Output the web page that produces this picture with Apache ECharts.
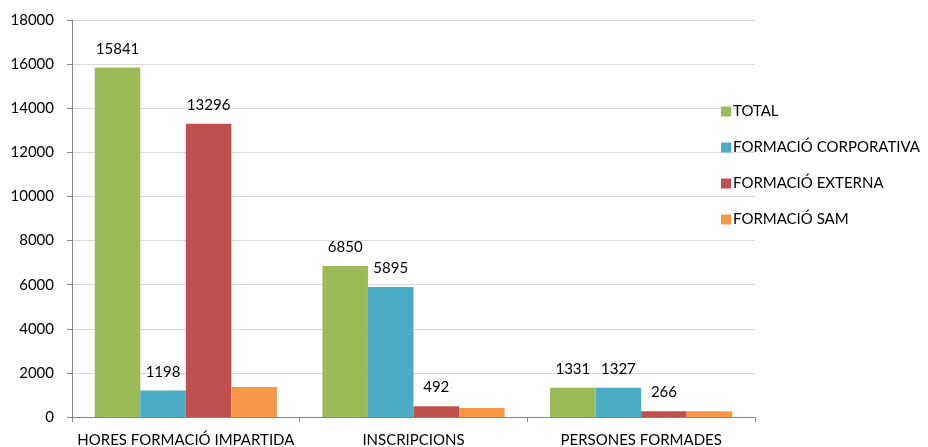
<!DOCTYPE html>
<html>
<head>
<meta charset="utf-8">
<script src="https://cdn.jsdelivr.net/npm/echarts@6/dist/echarts.min.js"></script>
<style>html,body{margin:0;padding:0;background:#fff}#c{width:928px;height:447px}</style>
</head>
<body>
<div id="c"></div>
<script>
const categories = ['HORES FORMACIÓ IMPARTIDA', 'INSCRIPCIONS', 'PERSONES FORMADES'];
const seriesNames = ['TOTAL', 'FORMACIÓ CORPORATIVA', 'FORMACIÓ EXTERNA', 'FORMACIÓ SAM'];
const total = [15841, 6850, 1331];
const corporativa = [1198, 5895, 1327];
const externa = [13296, 492, 266];
const sam = [1360, 410, 262];
const showLabels = [true, true, true, false];
const colors = ['#9BBB59', '#4BACC6', '#C0504D', '#F79646'];
const yTicks = [0, 2000, 4000, 6000, 8000, 10000, 12000, 14000, 16000, 18000];

const FONT = 'Lato, "Open Sans", sans-serif';
const values = [total, corporativa, externa, sam];
const chart = echarts.init(document.getElementById('c'), null, {renderer: 'canvas'});
chart.setOption({
  animation: false,
  textStyle: {fontFamily: FONT},
  color: colors,
  grid: {left: 72, right: 173, top: 20, bottom: 30, containLabel: false, outerBoundsMode: 'none'},
  legend: {
    orient: 'vertical',
    left: 716,
    top: 99,
    itemWidth: 10,
    itemHeight: 10,
    itemGap: 21,
    icon: 'rect',
    data: seriesNames,
    textStyle: {fontSize: 15, color: '#000', fontFamily: FONT, padding: [0, 0, 0, -3]}
  },
  xAxis: {
    type: 'category',
    data: categories,
    axisLine: {lineStyle: {color: '#868686'}},
    axisTick: {show: true, length: 5, lineStyle: {color: '#868686'}},
    axisLabel: {fontSize: 15, color: '#000', margin: 16, interval: 0, fontFamily: FONT}
  },
  yAxis: {
    type: 'value',
    min: yTicks[0],
    max: yTicks[yTicks.length - 1],
    interval: 2000,
    axisLine: {show: true, lineStyle: {color: '#868686'}},
    axisTick: {show: true, length: 5, lineStyle: {color: '#868686'}},
    axisLabel: {fontSize: 15, color: '#000', margin: 18, fontFamily: FONT, formatter: v => String(v)},
    splitLine: {lineStyle: {color: '#d9d9d9', width: 1}}
  },
  series: seriesNames.map((name, i) => ({
    name: name,
    type: 'bar',
    data: values[i],
    barGap: '0%',
    barCategoryGap: '20%',
    itemStyle: {color: colors[i]},
    label: {
      show: showLabels[i],
      position: 'top',
      distance: 11,
      fontSize: 15,
      color: '#000',
      fontFamily: FONT
    }
  }))
});
</script>
</body>
</html>
